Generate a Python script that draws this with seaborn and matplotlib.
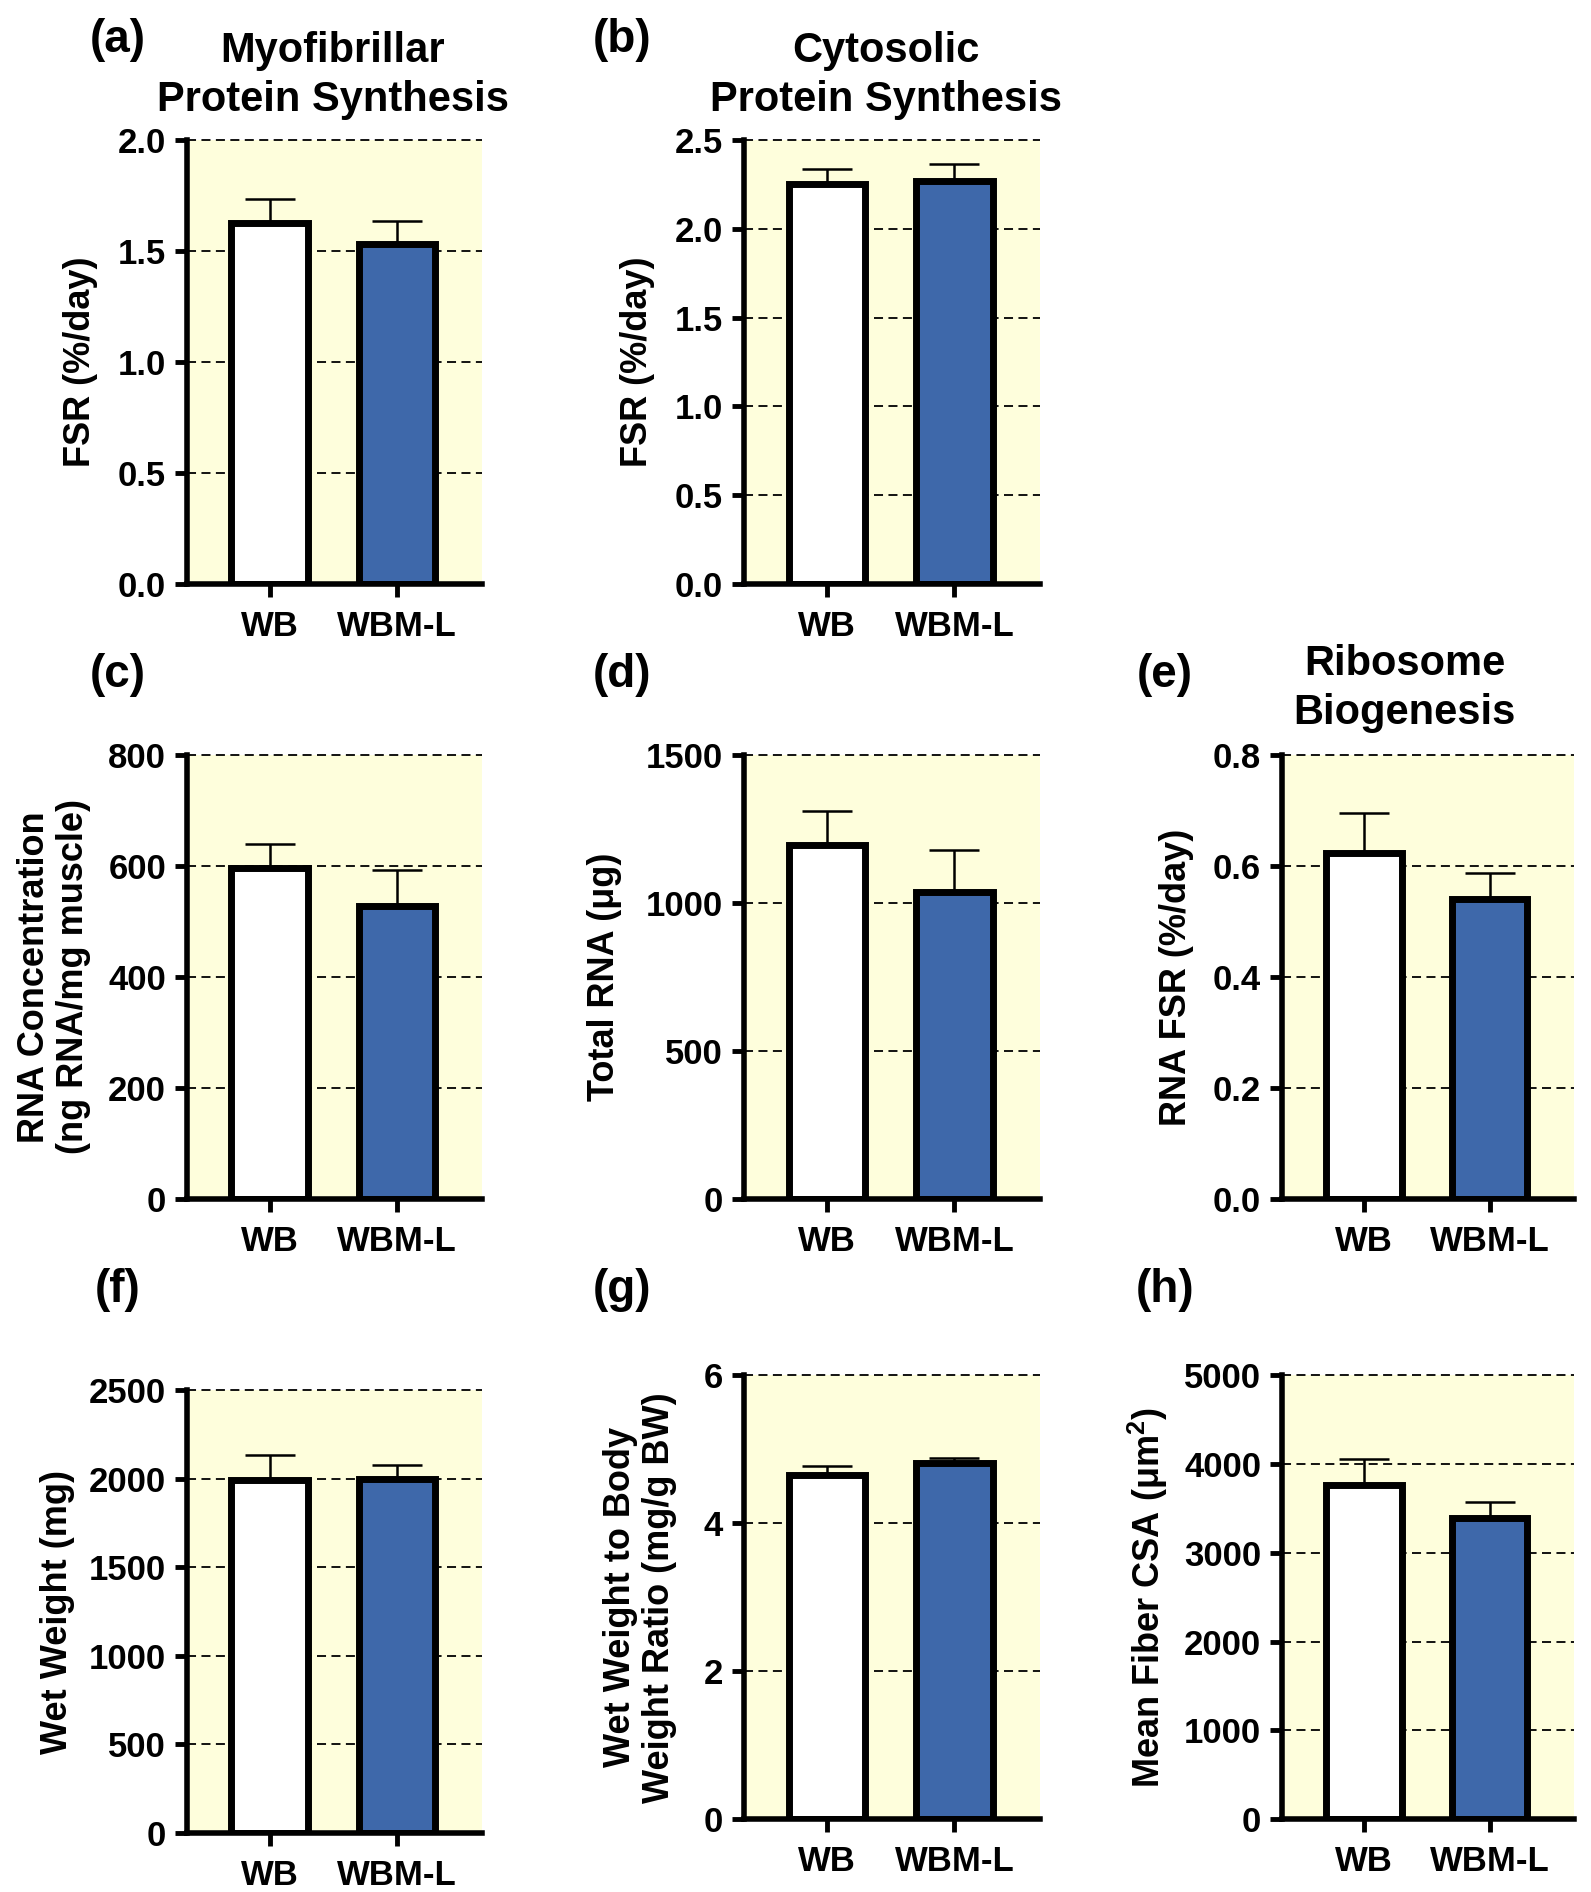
import pandas as pd
import seaborn as sns
import matplotlib.pyplot as plt

# groups and colours
groups = ["WB", "WBM-L"]
bar_colors = ["#FFFFFF", "#3E68AA"]
panel_bg = "#FEFEDC"

# mean values and upper SEM
myo_mean = [1.625, 1.53]
myo_err = [0.11, 0.105]
cyto_mean = [2.25, 2.272]
cyto_err = [0.088, 0.092]
rnaconc_mean = [596, 528]
rnaconc_err = [43, 64]
totrna_mean = [1197, 1036]
totrna_err = [112, 144]
rnafsr_mean = [0.623, 0.541]
rnafsr_err = [0.072, 0.047]
wetw_mean = [1995, 1998]
wetw_err = [138, 80]
wwbw_mean = [4.65, 4.82]
wwbw_err = [0.12, 0.07]
csa_mean = [3765, 3395]
csa_err = [290, 175]

sns.set_style("ticks")
plt.rcParams["font.family"] = ["Liberation Sans", "DejaVu Sans"]
plt.rcParams["font.weight"] = "bold"
plt.rcParams["text.color"] = "black"
plt.rcParams["axes.labelcolor"] = "black"
plt.rcParams["xtick.color"] = "black"
plt.rcParams["ytick.color"] = "black"
plt.rcParams["axes.edgecolor"] = "black"
# superscript in panel (h) label
plt.rcParams["mathtext.fontset"] = "custom"
plt.rcParams["mathtext.rm"] = "Liberation Sans:bold"
plt.rcParams["mathtext.bf"] = "Liberation Sans:bold"

fig = plt.figure(figsize=(15.91, 18.92), dpi=100)

# axes boxes in figure fractions: left, bottom, width, height
panels = [
    dict(tag="(a)", box=[0.1175, 0.6913, 0.1854, 0.2347], mean=myo_mean, err=myo_err,
         ylim=2.0, yticks=[0, 0.5, 1.0, 1.5, 2.0], fmt="{:.1f}", ylabel="FSR (%/day)", lab_x=-0.36,
         title="Myofibrillar\nProtein Synthesis", title_xy=(0.209, 0.960), tag_xy=(0.074, 0.979)),
    dict(tag="(b)", box=[0.4676, 0.6913, 0.1860, 0.2347], mean=cyto_mean, err=cyto_err,
         ylim=2.5, yticks=[0, 0.5, 1.0, 1.5, 2.0, 2.5], fmt="{:.1f}", ylabel="FSR (%/day)", lab_x=-0.36,
         title="Cytosolic\nProtein Synthesis", title_xy=(0.557, 0.960), tag_xy=(0.391, 0.979)),
    dict(tag="(c)", box=[0.1175, 0.3663, 0.1854, 0.2347], mean=rnaconc_mean, err=rnaconc_err,
         ylim=800, yticks=[0, 200, 400, 600, 800], fmt="{:.0f}",
         ylabel="RNA Concentration\n(ng RNA/mg muscle)", lab_x=-0.45, tag_xy=(0.074, 0.643)),
    dict(tag="(d)", box=[0.4676, 0.3663, 0.1860, 0.2347], mean=totrna_mean, err=totrna_err,
         ylim=1500, yticks=[0, 500, 1000, 1500], fmt="{:.0f}", ylabel="Total RNA (μg)", lab_x=-0.47,
         tag_xy=(0.391, 0.643)),
    dict(tag="(e)", box=[0.8058, 0.3663, 0.1835, 0.2347], mean=rnafsr_mean, err=rnafsr_err,
         ylim=0.8, yticks=[0, 0.2, 0.4, 0.6, 0.8], fmt="{:.1f}", ylabel="RNA FSR (%/day)", lab_x=-0.36,
         title="Ribosome\nBiogenesis", title_xy=(0.883, 0.636), tag_xy=(0.732, 0.643)),
    dict(tag="(f)", box=[0.1175, 0.0312, 0.1854, 0.2341], mean=wetw_mean, err=wetw_err,
         ylim=2500, yticks=[0, 500, 1000, 1500, 2000, 2500], fmt="{:.0f}", ylabel="Wet Weight (mg)",
         lab_x=-0.44, tag_xy=(0.074, 0.318)),
    dict(tag="(g)", box=[0.4676, 0.0386, 0.1860, 0.2344], mean=wwbw_mean, err=wwbw_err,
         ylim=6, yticks=[0, 2, 4, 6], fmt="{:.0f}", ylabel="Wet Weight to Body\nWeight Ratio (mg/g BW)",
         lab_x=-0.35, tag_xy=(0.391, 0.318)),
    dict(tag="(h)", box=[0.8058, 0.0386, 0.1835, 0.2344], mean=csa_mean, err=csa_err,
         ylim=5000, yticks=[0, 1000, 2000, 3000, 4000, 5000], fmt="{:.0f}",
         ylabel="Mean Fiber CSA (μm$^{\\mathbf{2}}$)", lab_x=-0.46, tag_xy=(0.732, 0.318)),
]

for p in panels:
    ax = fig.add_axes(p["box"])
    df = pd.DataFrame({"group": groups, "value": p["mean"], "err": p["err"]})
    sns.barplot(data=df, x="group", y="value", hue="group", palette=dict(zip(groups, bar_colors)),
                legend=False, width=0.6, edgecolor="black", linewidth=5, errorbar=None,
                saturation=1, ax=ax, zorder=3)
    # upper error bars only, drawn behind the bars
    centers = [b.get_x() + b.get_width() / 2 for b in ax.patches]
    ax.errorbar(centers, df["value"], yerr=[[0] * len(df), df["err"]], fmt="none",
                ecolor="black", elinewidth=1.8, capsize=18, capthick=1.8, zorder=2)

    ax.set_facecolor(panel_bg)
    ax.set_xlim(-0.65, 1.67)
    ax.set_ylim(0, p["ylim"])
    ax.set_yticks(p["yticks"])
    ax.set_yticklabels([p["fmt"].format(v) for v in p["yticks"]])
    ax.set_xlabel("")
    ax.set_ylabel(p["ylabel"], fontsize=26, fontweight="bold", va="center", linespacing=1.15)
    ax.yaxis.set_label_coords(p["lab_x"], 0.5)

    ax.yaxis.grid(True, color="black", linestyle=(0, (5, 3)), linewidth=1.3)
    ax.xaxis.grid(False)
    ax.set_axisbelow(True)
    for gl in ax.get_ygridlines():
        gl.set_clip_on(False)

    sns.despine(ax=ax)
    for side in ["left", "bottom"]:
        ax.spines[side].set_linewidth(4)
        ax.spines[side].set_color("black")
        ax.spines[side].set_zorder(4)
    ax.tick_params(axis="both", width=3.5, length=9, labelsize=25, color="black",
                   labelcolor="black", pad=6)
    ax.tick_params(axis="x", pad=10)
    for lab in ax.get_xticklabels() + ax.get_yticklabels():
        lab.set_fontweight("bold")

    fig.text(p["tag_xy"][0], p["tag_xy"][1], p["tag"], fontsize=33, fontweight="bold",
             ha="center", va="center")
    if "title" in p:
        fig.text(p["title_xy"][0], p["title_xy"][1], p["title"], fontsize=30, fontweight="bold",
                 ha="center", va="center", linespacing=1.3)

fig.savefig("out.png", dpi=100)
